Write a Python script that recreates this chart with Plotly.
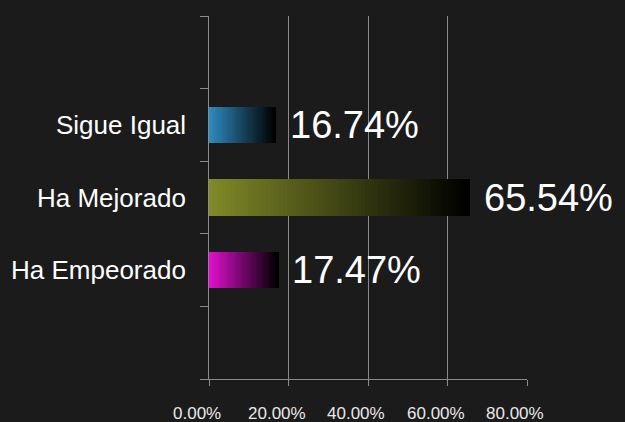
import plotly.graph_objects as go

categories = ["Ha Empeorado", "Ha Mejorado", "Sigue Igual"]
values = [17.47, 65.54, 16.74]
value_labels = ["17.47%", "65.54%", "16.74%"]
start_colors = [(224, 16, 208), (128, 138, 40), (46, 140, 192)]
x_tick_vals = [0, 20, 40, 60, 80]
x_tick_labels = ["0.00%", "20.00%", "40.00%", "60.00%", "80.00%"]

BG = "#1b1b1b"
GRID = "#8a8a8a"
FONT = "Liberation Sans, Arial, sans-serif"
N = 60

fig = go.Figure()
ypos = list(range(len(categories)))
for k in range(N):
    t = k / (N - 1)
    cols = []
    for (r, g, b) in start_colors:
        f = 1 - t
        cols.append(f"rgb({int(r*f)},{int(g*f)},{int(b*f)})")
    fig.add_trace(go.Bar(
        y=ypos,
        x=[v / N for v in values],
        base=[v * k / N for v in values],
        orientation="h",
        width=0.5,
        marker=dict(color=cols, line=dict(width=0)),
        showlegend=False,
        hoverinfo="skip",
    ))

annotations = []
for i, (v, lab) in enumerate(zip(values, value_labels)):
    annotations.append(dict(x=v, y=i, xref="x", yref="y", text=lab, showarrow=False,
                            xanchor="left", yanchor="middle", xshift=12,
                            font=dict(family=FONT, size=38, color="#ffffff")))
for i, c in enumerate(categories):
    annotations.append(dict(x=0, y=i, xref="paper", yref="y", text=c, showarrow=False,
                            xanchor="right", yanchor="middle", xshift=-21,
                            font=dict(family=FONT, size=26, color="#ffffff")))
for xv, xl in zip(x_tick_vals, x_tick_labels):
    annotations.append(dict(x=xv, y=0, xref="x", yref="paper", text=xl, showarrow=False,
                            xanchor="center", yanchor="middle", xshift=-12, yshift=-34,
                            font=dict(family=FONT, size=17, color="#e8e8e8")))

fig.update_layout(
    width=625, height=422,
    margin=dict(l=209, r=98, t=16, b=43),
    paper_bgcolor=BG, plot_bgcolor=BG,
    barmode="overlay",
    bargap=0,
    annotations=annotations,
    xaxis=dict(range=[0, 80], tickvals=x_tick_vals, showticklabels=False,
               showgrid=True, gridcolor=GRID, gridwidth=1,
               showline=True, linecolor=GRID, linewidth=1,
               ticks="outside", ticklen=6, tickcolor=GRID, zeroline=False,
               fixedrange=True),
    yaxis=dict(range=[-1.5, 3.5], tickvals=[-1.5, -0.5, 0.5, 1.5, 2.5, 3.5],
               showticklabels=False, showgrid=False,
               showline=True, linecolor=GRID, linewidth=1,
               ticks="outside", ticklen=8, tickcolor=GRID, zeroline=False,
               fixedrange=True),
)

fig.write_html("out.html", config={"displayModeBar": False},
               post_script="document.body.style.margin='0';document.body.style.background='#1b1b1b';")
